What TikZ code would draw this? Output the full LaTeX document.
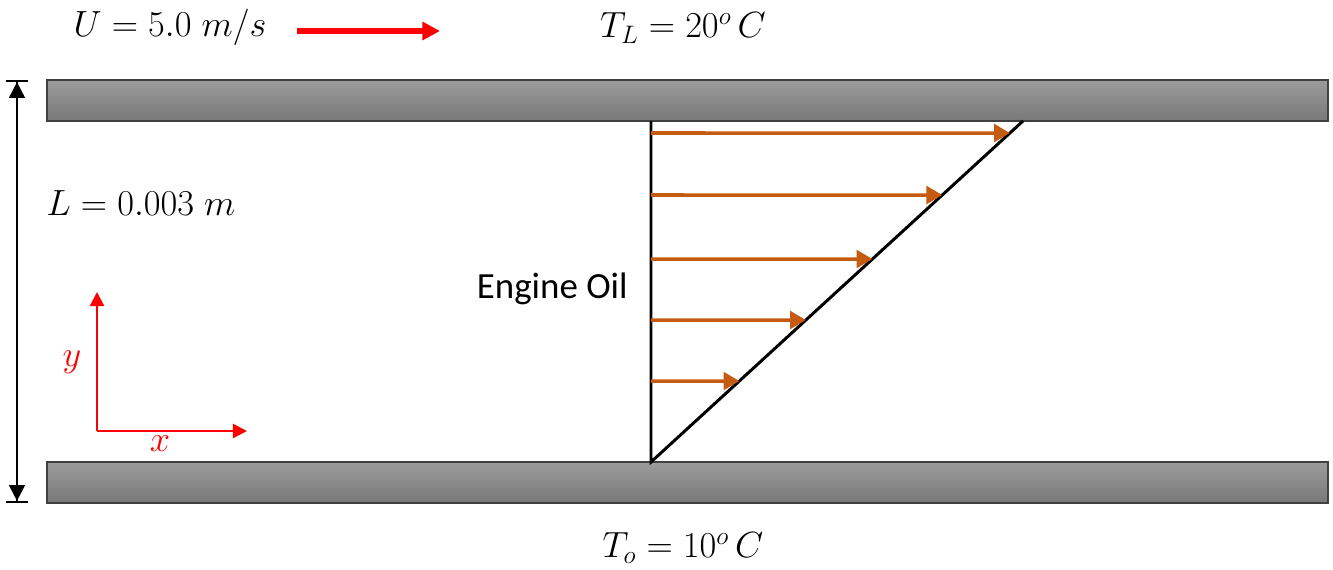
\documentclass[tikz,border=0pt]{standalone}
\usepackage{amsmath}
\usepackage{fontspec}
\usepackage{tikz}
\usetikzlibrary{arrows.meta,positioning,calc}
\newfontfamily\labelfont{Carlito}
\definecolor{plategray}{RGB}{120,120,120}
\definecolor{platelight}{RGB}{156,156,156}
\definecolor{plateedge}{RGB}{64,64,64}
\definecolor{velorange}{RGB}{197,90,17}
\definecolor{axisred}{RGB}{255,0,0}

\begin{document}
\begin{tikzpicture}[
  x=0.02cm, y=-0.02cm,
  every node/.style={font=\fontsize{21}{25}\selectfont, inner sep=0pt},
  plate/.style={draw=plateedge, line width=1.1pt, top color=platelight,
    bottom color=plategray, minimum width=1281*0.02cm, minimum height=41*0.02cm},
  vel/.style={-{Triangle[length=9pt, width=10pt]}, velorange, line width=2pt},
  axis/.style={-{Triangle[length=8pt, width=8pt]}, axisred, line width=1.2pt},
  dim/.style={{Bar[width=12pt]Triangle[length=9pt, width=9pt]}-{Triangle[length=9pt, width=9pt]Bar[width=12pt]},
    line width=1.2pt},
  profile/.style={line width=1.7pt}
]
\useasboundingbox (0,0) rectangle (1333,569);

% plates
\node[plate] (top) at (687.5,100.5) {};
\node[plate] (bot) at (687.5,482.5) {};

% velocity profile
\coordinate (o) at (651,462);
\coordinate (wall) at (651,121);
\coordinate (tip) at (1023,121);
\draw[profile] (wall) -- (o) -- (tip);
\foreach \yy in {133,195,259,320,381}
  \draw[vel] (651,\yy) -- ($(o)!{(462-\yy)/341}!(tip)$);

% gap
\coordinate (gtop) at (17,80);
\coordinate (gbot) at (17,503);
\draw[dim] (gtop) -- (gbot);
\node (len) at (141,203) {$L = 0.003\;m$};

% moving plate
\node (speed) at (170,27) {$U = 5.0\;m/s$};
\coordinate (ua) at (297,31);
\coordinate (ub) at (440,31);
\draw[-{Triangle[length=10pt, width=10pt]}, axisred, line width=3.2pt] (ua) -- (ub);
\node (tl) at (683,28) {$T_L = 20^o\,C$};
\node (to) at (683,548) {$T_o = 10^o\,C$};

% axes
\coordinate (ax) at (97,431);
\coordinate (axx) at (247,431);
\coordinate (axy) at (97,292);
\draw[axis] (ax) -- (axx);
\draw[axis] (ax) -- (axy);
\node[axisred] (xl) at (160,444) {$x$};
\node[axisred] (yl) at (72,362) {$y$};

\node[anchor=east, font=\labelfont\fontsize{21}{25}\selectfont] (oil) at (628,289) {Engine Oil};
\end{tikzpicture}
\end{document}
